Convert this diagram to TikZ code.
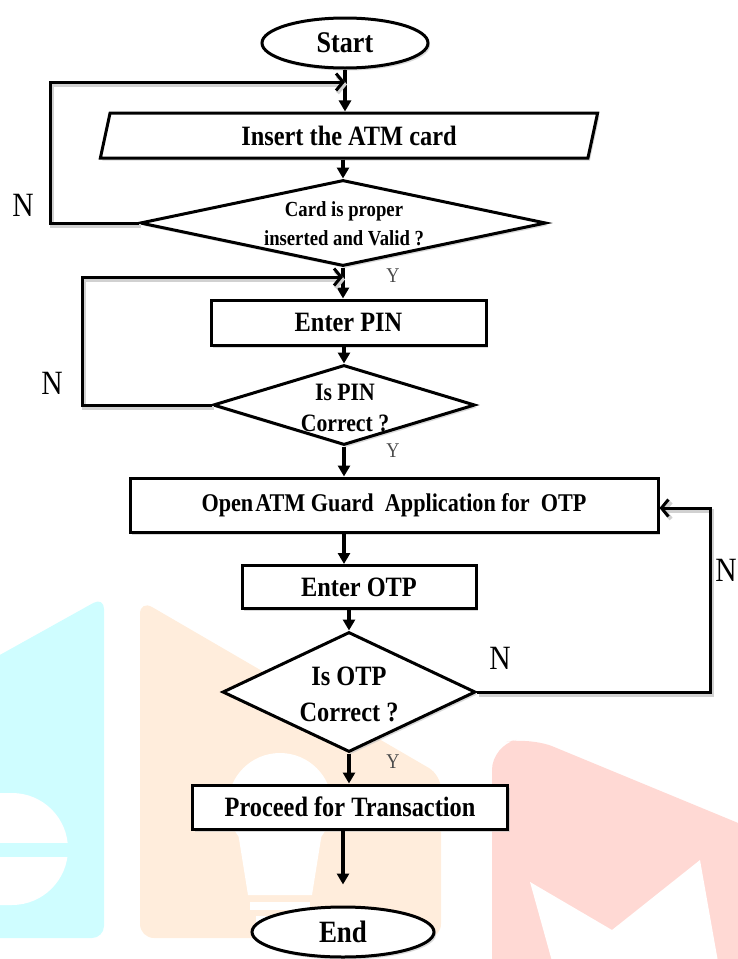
\documentclass[tikz,border=0pt]{standalone}
\usepackage{fontspec}
\setmainfont{Liberation Serif}[FakeStretch=0.87]
\usetikzlibrary{shapes.geometric,arrows.meta,shadows}

\definecolor{wmcyan}{RGB}{207,253,255}
\definecolor{wmorange}{RGB}{255,237,220}
\definecolor{wmred}{RGB}{255,217,212}

\begin{document}
\begin{tikzpicture}[x=1pt,y=-1pt,
    shade/.style={drop shadow={shadow xshift=2pt,shadow yshift=-2.5pt,fill=black!25,opacity=0.6}},
    lineshade/.style={preaction={draw=black!18,line width=4pt,transform canvas={xshift=2pt,yshift=-2.5pt}}},
    term/.style={ellipse,draw,line width=3pt,fill=white,inner sep=0pt,shade,
        font=\fontsize{30}{34}\selectfont\bfseries},
    io/.style={trapezium,trapezium left angle=77.5,trapezium right angle=102.5,
        trapezium stretches=true,draw,line width=3pt,fill=white,inner sep=0pt,shade,
        font=\fontsize{28}{32}\selectfont\bfseries},
    box/.style={rectangle,draw,line width=3pt,fill=white,inner sep=0pt,shade,
        font=\fontsize{28}{32}\selectfont\bfseries},
    question/.style={diamond,draw,line width=3pt,fill=white,inner sep=0pt,shade},
    qtext/.style={align=center,inner sep=0pt},
    flow/.style={line width=4pt,-{Triangle[width=12pt,length=11pt]}},
    back/.style={line width=3pt,lineshade,-{Straight Barb[length=7pt,width=17pt]}},
    ylabel/.style={font=\fontsize{21}{21}\selectfont,text=black!70},
    nlabel/.style={font=\fontsize{34}{34}\selectfont}]
    \useasboundingbox (0,0) rectangle (738,959);
    % watermark
    \fill[wmcyan,rounded corners=12pt] (-20,666) -- (104,597) -- (104,938) -- (-20,938) -- cycle;
    \fill[white] (-20,793) -- (12,793) arc[start angle=-90,end angle=90,radius=56] -- (-20,905) -- cycle;
    \fill[wmcyan] (-20,843) rectangle (68,857);
    \fill[wmorange,rounded corners=14pt] (140,600) -- (441,775) -- (441,938) -- (140,938) -- cycle;
    \fill[white] (280,805) circle[radius=52];
    \fill[white] (236,820) -- (324,820) -- (312,895) -- (248,895) -- cycle;
    \fill[white] (250,902) rectangle (310,910);
    \fill[white] (256,916) rectangle (304,924);
    \fill[wmred,rounded corners=25pt] (492,990) -- (492,745) -- (530,737) -- (760,832) -- (760,990) -- cycle;
    \fill[white] (530,882) -- (612,930) -- (700,860) -- (723,990) -- (560,990) -- cycle;
    % nodes
    \node[term,minimum width=166,minimum height=50] (start) at (345,43) {Start};
    \node[io,minimum width=498,minimum height=45] (card) at (349,135.5) {Insert the ATM card};
    \node[question,minimum width=406,minimum height=86] (dcard) at (343,223) {};
    \node[qtext,font=\fontsize{21.5}{29}\selectfont\bfseries] (dcardtext) at (344,224)
        {Card is proper\\inserted and Valid ?};
    \node[box,minimum width=275,minimum height=45] (pin) at (348.5,322.5) {Enter PIN};
    \node[question,minimum width=262,minimum height=80] (dpin) at (344,405) {};
    \node[qtext,font=\fontsize{25}{31}\selectfont\bfseries] (dpintext) at (345,408)
        {Is PIN\\Correct ?};
    \node[box,minimum width=528,minimum height=54,font=\fontsize{25.5}{30}\selectfont\bfseries]
        (guard) at (394,505) {Open\hspace{2pt}ATM Guard\ \ Application for\ \ OTP};
    \node[box,minimum width=234,minimum height=43] (otp) at (359,587) {Enter OTP};
    \node[question,minimum width=253,minimum height=120] (dotp) at (349,692) {};
    \node[qtext,font=\fontsize{28}{36}\selectfont\bfseries] (dotptext) at (349,694)
        {Is OTP\\Correct ?};
    \node[box,minimum width=315,minimum height=44] (proceed) at (350,807) {Proceed for Transaction};
    \node[term,minimum width=182,minimum height=50,font=\fontsize{31}{34}\selectfont\bfseries]
        (end) at (343,932) {End};
    % main flow
    \draw[flow] (start.south) -- (start.south |- card.north);
    \draw[flow] (dcard.north |- card.south) -- (dcard.north);
    \draw[flow] (dcard.south) -- (dcard.south |- pin.north);
    \draw[flow] (dpin.north |- pin.south) -- (dpin.north);
    \draw[flow] (dpin.south) -- (dpin.south |- guard.north);
    \draw[flow] (dpin.south |- guard.south) -- (dpin.south |- otp.north);
    \draw[flow] (dotp.north |- otp.south) -- (dotp.north);
    \draw[flow] (dotp.south) -- (dotp.south |- proceed.north);
    \draw[flow,shorten >=21pt] (end.north |- proceed.south) -- (end.north);
    % loops back
    \coordinate (c1) at (50,82);
    \draw[back] (dcard.west) -| (c1) -- (c1 -| start.south);
    \coordinate (c2) at (82,277);
    \draw[back] (dpin.west) -| (c2) -- (c2 -| dcard.south);
    \coordinate (c3) at (710,508);
    \draw[back] (dotp.east) -| (c3) -- (c3 -| guard.east);
    % labels
    \node[nlabel] (n1) at (23,205) {N};
    \node[nlabel] (n2) at (52,383) {N};
    \node[nlabel] (n3) at (500,658) {N};
    \node[nlabel] (n4) at (726,570) {N};
    \node[ylabel] (y1) at (393,276) {Y};
    \node[ylabel] (y2) at (393,451) {Y};
    \node[ylabel] (y3) at (393,762) {Y};
\end{tikzpicture}
\end{document}
